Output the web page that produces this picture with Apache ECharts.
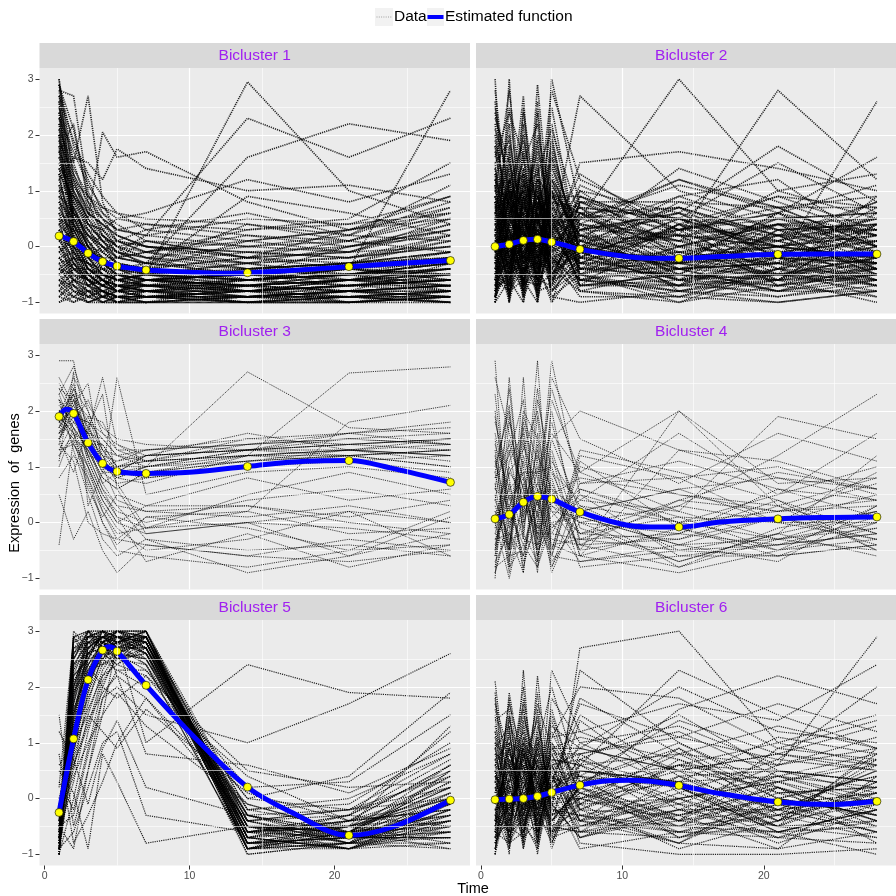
<!DOCTYPE html>
<html>
<head>
<meta charset="utf-8">
<script src="https://cdn.jsdelivr.net/npm/echarts@6/dist/echarts.min.js"></script>
<style>
html, body { margin: 0; padding: 0; background: #fff; }
#chart { width: 896px; height: 896px; }
</style>
</head>
<body>
<div id="chart"></div>
<script>
// sampling times of every gene profile
const times = [1, 2, 3, 4, 5, 7, 14, 21, 28]

// gene profiles (values at each time)
const genes1 = [
  [3.0, 1.2, 0.4, 0.1, -0.2, -0.3, -0.5, -0.4, -0.3],
  [2.8, 2.7, 1.0, 0.3, 0.0, -0.2, -0.6, -0.5, -0.2],
  [2.5, 1.5, 2.7, 0.8, 0.2, 0.0, -0.3, -0.2, 0.1],
  [2.2, 1.0, 0.5, 2.05, 1.6, 1.7, 0.8, 0.3, 0.5],
  [1.8, 0.6, 0.2, -0.1, -0.3, -0.5, -0.7, -0.6, -0.5],
  [1.5, 0.8, 0.0, -0.4, -0.5, -0.6, -0.8, -0.7, -0.8],
  [1.2, 1.6, 1.5, 1.2, 1.75, 1.4, 1.0, 1.1, 0.8],
  [1.0, 0.2, -0.3, -0.6, -0.7, -0.8, -0.9, -0.9, -1.0],
  [0.8, 0.4, 0.1, -0.2, -0.4, -0.5, 2.95, 1.0, 0.4],
  [0.6, 0.0, -0.5, -0.7, -0.8, -0.9, -1.0, -0.8, -0.9],
  [0.5, 0.3, -0.2, -0.5, -0.6, -0.7, -0.6, -0.4, 2.8],
  [0.3, -0.1, -0.4, -0.6, -0.7, -0.7, -0.8, -0.7, -0.6],
  [0.2, 0.5, 0.3, 0.0, -0.1, 0.2, 0.5, 0.4, 0.6],
  [0.0, -0.3, -0.6, -0.8, -0.8, -0.9, -0.9, -0.8, -0.8],
  [-0.2, -0.4, -0.7, -0.8, -0.9, -0.9, -1.0, -1.0, -0.9],
  [-0.4, -0.5, -0.6, -0.7, -0.7, -0.8, -0.8, -0.7, -0.7],
  [-0.6, -0.7, -0.8, -0.9, -0.9, -1.0, -0.9, -0.9, -0.8],
  [-0.8, -0.9, -1.0, -0.9, -1.0, -1.0, -1.0, -0.9, -1.0],
  [-1.0, -0.8, -0.9, -1.0, -0.9, -0.9, -0.8, -1.0, -0.9],
  [2.0, 0.9, 0.6, 0.4, 0.1, -0.1, 0.3, 0.5, 1.5],
  [1.4, 1.1, 0.7, 0.5, 0.3, 0.2, 2.3, 1.6, 2.3],
  [0.9, 0.7, 0.2, 0.0, -0.2, -0.3, 1.6, 2.2, 1.9],
  [-0.5, -0.2, -0.3, -0.5, -0.6, -0.6, -0.4, -0.3, -0.2],
  [-0.3, -0.6, -0.7, -0.6, -0.8, -0.7, -0.6, -0.5, -0.4],
  [-0.7, -0.5, -0.6, -0.7, -0.6, -0.8, -0.7, -0.6, -0.5],
  [-0.9, -1.0, -0.8, -0.8, -0.9, -0.9, -0.9, -0.8, -0.7],
  [0.1, -0.2, -0.5, -0.4, -0.5, -0.6, -0.7, -0.5, -0.3],
  [2.6, 0.3, -0.1, -0.3, -0.5, -0.6, -0.7, -0.6, -0.6],
  [1.7, 2.2, 0.8, 0.2, -0.1, -0.3, -0.5, -0.5, -0.4],
  [0.4, 0.1, 0.0, 0.2, 0.0, -0.2, 0.0, 0.2, 1.1],
  [-0.1, -0.4, -0.6, -0.7, -0.5, -0.4, -0.5, 0.0, 0.3],
  [1.1, 0.4, -0.1, -0.4, -0.3, -0.5, -0.6, -0.5, -0.7],
  [-0.6, -0.8, -0.9, -1.0, -1.0, -0.9, -0.8, -0.7, -0.6],
  [2.9, 1.8, 1.2, 0.6, 0.4, 0.1, -0.2, -0.1, 0.0],
  [-0.8, -0.6, -0.7, -0.9, -0.8, -0.7, -0.9, -0.8, -0.9],
  [0.7, 0.2, -0.4, -0.6, -0.7, -0.8, -0.7, -0.6, -0.5],
  [-0.4, -0.7, -0.9, -0.8, -0.9, -1.0, -1.0, -0.9, -1.0],
  [1.3, 0.9, 0.4, 0.3, 0.0, -0.4, 0.9, 0.6, 0.2],
  [-0.2, -0.1, -0.4, -0.5, -0.5, -0.5, -0.3, -0.6, -0.4],
  [0.0, -0.5, -0.8, -0.9, -1.0, -0.8, -0.9, -1.0, -0.8],
  [3.0, 0.5, 0.0, -0.3, -0.5, -0.6, -0.8, -0.7, -0.6],
  [2.7, 1.3, 0.6, 0.2, -0.1, -0.2, -0.4, -0.3, 0.2],
  [2.4, 0.8, 0.3, 0.0, -0.3, -0.4, -0.6, -0.5, -0.3],
  [2.1, 1.4, 0.9, 0.6, 0.3, 0.4, 0.2, 0.1, 0.7],
  [1.9, 0.4, -0.2, -0.5, -0.6, -0.7, -0.9, -0.8, -0.7],
  [1.6, 1.0, 0.5, 0.1, -0.2, -0.1, -0.3, 0.0, 0.4],
  [1.3, 0.1, -0.4, -0.6, -0.8, -0.8, -1.0, -0.9, -0.9],
  [0.9, 0.6, 0.4, 0.3, 0.5, 0.6, 1.2, 0.8, 1.3],
  [0.6, -0.2, -0.5, -0.7, -0.9, -1.0, -0.9, -1.0, -1.0],
  [0.4, 0.7, 0.1, -0.3, -0.2, 0.1, -0.2, 0.3, 0.9],
  [0.2, -0.4, -0.6, -0.8, -0.7, -0.9, -0.7, -0.8, -0.7],
  [-0.1, 0.2, -0.1, -0.3, -0.4, -0.3, 0.4, 0.1, -0.1],
  [-0.3, -0.8, -1.0, -0.9, -0.8, -0.6, -0.5, -0.7, -0.5],
  [-0.5, -0.3, -0.5, -0.6, -0.8, -0.9, -0.8, -0.6, -0.2],
  [-0.7, -0.9, -0.7, -0.5, -0.6, -0.5, -0.6, -0.4, -0.6],
  [-0.9, -0.7, -1.0, -1.0, -0.9, -0.8, -1.0, -0.9, -0.8],
  [2.3, 1.7, 1.1, 0.7, 0.6, 0.3, 0.1, 0.3, 0.6],
  [1.7, 0.5, 0.0, -0.2, -0.4, -0.4, -0.2, -0.4, -0.1],
  [1.0, 1.2, 0.6, 0.4, 0.2, 0.0, -0.1, -0.2, 0.0],
  [0.5, -0.6, -0.8, -1.0, -1.0, -0.9, -0.9, -0.8, -0.9],
  [0.1, 0.0, -0.2, 0.0, -0.3, -0.4, 0.1, -0.1, 0.5],
  [-0.2, -0.6, -0.8, -0.7, -0.6, -0.7, -0.4, -0.5, -0.8],
  [-0.6, -0.4, -0.4, -0.6, -0.4, -0.6, -0.7, -0.8, -0.3],
  [-0.8, -1.0, -0.9, -0.7, -0.8, -0.8, -0.6, -0.5, -0.4],
  [2.9, 2.1, 0.9, 0.5, 0.1, -0.1, -0.4, -0.3, -0.1],
  [2.0, 0.2, -0.3, -0.5, -0.7, -0.7, -0.6, -0.4, -0.5],
  [1.4, 0.6, 0.2, -0.1, 0.1, 0.3, 0.6, 0.2, 0.8],
  [0.8, 0.0, -0.3, -0.4, -0.6, -0.5, -0.8, -0.6, -0.6],
  [-0.4, -0.2, -0.6, -0.8, -1.0, -1.0, -0.7, -1.0, -0.9],
  [0.3, -0.3, -0.7, -0.9, -0.7, -0.6, -0.5, -0.3, 0.1],
  [2.8, 0.9, 0.3, -0.1, -0.3, -0.4, -0.5, -0.6, -0.4],
  [2.5, 1.1, 0.6, 0.4, 0.2, 0.0, -0.2, -0.1, 0.3],
  [2.2, 0.3, -0.2, -0.4, -0.6, -0.7, -0.8, -0.7, -0.6],
  [1.9, 1.3, 0.8, 0.5, 0.3, 0.2, 0.0, 0.1, 0.5],
  [1.6, 0.7, 0.1, -0.2, -0.4, -0.5, -0.6, -0.4, -0.2],
  [1.3, 0.0, -0.5, -0.7, -0.8, -0.9, -0.9, -0.8, -0.8],
  [1.0, 0.9, 0.5, 0.2, 0.0, -0.1, 0.1, 0.3, 0.7],
  [0.7, 0.1, -0.2, -0.3, -0.5, -0.6, -0.5, -0.6, -0.4],
  [0.4, -0.3, -0.6, -0.9, -0.9, -0.8, -0.9, -0.9, -1.0],
  [0.1, 0.3, 0.2, 0.1, -0.1, -0.2, -0.3, -0.2, 0.0],
  [-0.2, -0.5, -0.7, -0.6, -0.7, -0.8, -0.6, -0.7, -0.6],
  [-0.5, -0.8, -0.8, -1.0, -0.9, -0.9, -1.0, -1.0, -0.9],
  [-0.8, -0.4, -0.5, -0.4, -0.6, -0.5, -0.4, -0.3, -0.1],
  [-1.0, -0.9, -0.8, -0.8, -0.7, -0.7, -0.8, -0.9, -0.8],
  [2.9, 1.5, 0.7, 0.3, 0.1, 0.0, -0.1, 0.0, 0.2],
  [2.6, 0.6, 0.0, -0.3, -0.5, -0.6, -0.7, -0.8, -0.7],
  [2.3, 1.0, 0.4, 0.1, -0.1, -0.3, -0.4, -0.3, -0.2],
  [2.0, 0.1, -0.4, -0.6, -0.7, -0.8, -0.8, -0.9, -0.8],
  [1.7, 1.2, 0.9, 0.7, 0.5, 0.4, 0.3, 0.4, 0.9],
  [1.4, 0.5, 0.0, -0.3, -0.4, -0.6, -0.7, -0.5, -0.5],
  [1.1, -0.1, -0.6, -0.8, -0.9, -1.0, -0.9, -0.9, -0.9],
  [0.8, 0.5, 0.2, 0.0, -0.2, -0.3, -0.1, -0.2, 0.2],
  [0.5, 0.0, -0.4, -0.5, -0.6, -0.5, -0.6, -0.7, -0.5],
  [0.2, -0.7, -0.9, -0.9, -1.0, -0.9, -0.8, -0.8, -0.7],
  [-0.1, 0.1, -0.1, -0.2, -0.2, -0.1, 0.2, 0.0, 0.3],
  [-0.4, -0.6, -0.5, -0.7, -0.5, -0.7, -0.7, -0.6, -0.7],
  [-0.7, -0.3, -0.6, -0.6, -0.8, -0.6, -0.5, -0.4, -0.5],
  [-0.9, -0.6, -0.9, -0.8, -1.0, -1.0, -0.9, -0.7, -0.6],
  [2.7, 1.9, 1.3, 0.9, 0.6, 0.5, 0.4, 0.2, 0.1],
  [2.4, 0.4, -0.1, -0.2, -0.4, -0.5, -0.3, -0.5, -0.3],
  [2.1, 0.6, 0.3, 0.2, 0.0, 0.1, 0.0, -0.1, 0.4],
  [1.8, -0.1, -0.5, -0.7, -0.8, -0.7, -0.7, -0.6, -0.7],
  [1.5, 0.8, 0.4, 0.1, 0.1, 0.0, -0.2, -0.3, -0.1],
  [1.2, 0.3, -0.2, -0.5, -0.6, -0.6, -0.5, -0.4, -0.6],
  [0.9, -0.2, -0.7, -0.8, -0.9, -0.9, -1.0, -1.0, -0.9],
  [0.6, 0.4, 0.0, -0.1, -0.3, -0.4, -0.2, 0.1, 0.6],
  [0.3, -0.1, -0.3, -0.6, -0.5, -0.7, -0.8, -0.6, -0.8],
  [0.0, -0.4, -0.6, -0.5, -0.7, -0.6, -0.6, -0.5, -0.3],
  [-0.3, -0.2, -0.3, -0.4, -0.4, -0.4, -0.5, -0.4, -0.2],
  [-0.6, -0.9, -1.0, -0.9, -0.8, -0.8, -0.7, -0.8, -1.0]
]

const genes2 = [
  [3.0, -1.0, 2.5, 0.5, 1.0, 0.2, -0.3, 0.0, -0.2],
  [-1.0, 3.0, -0.8, 2.6, -0.5, 0.0, 0.3, 0.2, 0.1],
  [2.0, 0.5, 2.7, -1.0, 3.0, 0.7, -0.2, -0.5, -0.3],
  [0.5, 2.2, -0.5, 2.9, 0.2, 2.7, 1.0, 0.5, 0.6],
  [1.5, -0.5, 1.8, 0.0, 2.5, -0.2, -0.6, -0.4, -0.5],
  [-0.5, 1.5, 0.0, 1.6, -1.0, 0.5, 3.0, 1.0, 0.5],
  [0.0, -1.0, 1.2, -0.8, 1.5, -0.5, -0.8, -0.9, -0.7],
  [2.5, 1.0, -1.0, 0.8, -0.3, 0.3, 0.2, 2.8, 1.2],
  [-0.8, 0.0, -0.6, -1.0, 0.4, -0.8, -1.0, -0.7, -0.9],
  [1.0, 2.8, 0.5, -0.2, 1.2, 0.0, -0.4, -0.3, 2.6],
  [-1.0, -0.6, -1.0, 0.2, -0.8, -0.4, -0.5, -0.6, -0.6],
  [0.3, 0.8, 1.5, 2.2, 0.0, 1.5, 1.7, 1.4, 1.0],
  [1.8, -0.2, 0.3, -0.6, 2.0, -0.6, -0.7, -0.8, -0.8],
  [-0.3, 1.2, -0.4, 1.0, -0.6, 0.8, 0.5, 0.0, 0.2],
  [0.8, -0.8, 2.2, -0.3, 1.8, -0.1, -0.2, 0.4, 0.0],
  [-0.6, 0.3, -0.2, 0.5, -0.2, -0.9, -0.9, -1.0, -0.8],
  [2.2, 0.0, 0.8, 1.2, -0.7, 0.4, 1.2, 0.6, 1.6],
  [-0.9, -0.4, 0.6, -0.5, 0.8, -0.3, -0.3, -0.2, -0.4],
  [0.2, 1.8, -0.9, 0.3, -0.4, 0.1, 0.6, 1.8, 0.8],
  [1.2, 0.4, 0.1, 1.8, 0.6, -0.7, -0.6, -0.5, -0.2],
  [-0.2, -0.9, 1.0, -0.7, 0.0, 0.6, -0.1, -0.3, -0.1],
  [0.6, 1.0, -0.3, 0.0, 1.0, -0.2, 0.8, 0.3, 0.4],
  [-0.7, -0.2, -0.7, -0.4, -0.9, -1.0, -0.8, -0.6, -1.0],
  [2.8, 0.6, 1.0, 0.6, 2.8, 1.2, 0.4, 0.9, 0.3],
  [-0.4, 0.9, -0.1, -0.9, 0.3, -0.6, -0.4, -0.8, -0.5],
  [0.4, -0.3, 0.4, 0.8, -0.1, 0.2, 0.1, -0.1, -0.3],
  [-1.0, 0.2, -0.5, 0.1, -0.5, -0.5, -1.0, -0.4, -0.7],
  [1.6, 2.4, 1.6, -0.1, 0.9, 0.9, 0.0, -0.2, 0.7],
  [-0.5, -0.7, 0.2, -0.6, -0.3, 0.0, -0.6, -0.9, -0.6],
  [0.9, 0.1, -0.8, 1.4, -0.6, -0.4, 0.4, 0.1, -0.4],
  [0.0, 0.6, 0.7, -0.2, 0.5, -0.7, -0.7, -0.5, 0.9],
  [-0.8, -0.5, -0.3, -0.8, -0.7, -0.1, 0.2, -0.7, -0.2],
  [1.4, -0.1, 1.3, 0.4, 1.4, 0.3, -0.5, 0.2, -0.5],
  [-0.3, -0.8, -0.6, 0.6, -0.4, -0.8, -0.9, -0.4, -0.9],
  [0.7, 1.4, 0.0, -0.5, 0.1, 0.1, 1.4, 0.8, 0.2],
  [-0.6, 0.0, -0.9, -0.3, -1.0, -0.3, -0.2, 0.0, -0.3],
  [0.1, -0.6, 0.9, -1.0, 0.7, 0.4, -0.8, -1.0, -0.8],
  [2.4, 0.9, 0.4, 1.1, 0.2, 0.0, 0.9, 1.2, 0.0],
  [-0.1, -0.3, -0.2, 0.3, -0.2, -0.6, -0.3, -0.6, -0.1],
  [-0.9, 0.4, -0.4, -0.6, 0.4, -0.2, -0.6, -0.2, -0.6],
  [2.6, -0.4, 1.4, -0.2, 1.6, 0.1, -0.4, -0.3, -0.4],
  [-0.2, 2.5, 0.3, 1.9, 0.2, 1.3, 0.2, 0.4, 0.3],
  [1.3, 0.2, 2.4, 0.4, 2.2, -0.2, 0.5, -0.1, 0.1],
  [0.4, 1.6, -0.2, 2.4, -0.1, 0.6, -0.3, 0.6, -0.2],
  [1.9, 0.7, 0.5, -0.4, 1.3, 0.0, 0.7, 0.2, 0.5],
  [-0.6, 1.1, 1.9, 0.7, 0.6, -0.4, -0.1, -0.5, -0.4],
  [0.9, -0.5, 0.1, 1.5, -0.3, 0.9, 0.3, 0.9, 0.7],
  [-0.3, 0.5, 1.3, -0.6, 1.1, 0.2, -0.6, -0.3, -0.7],
  [2.1, 1.3, -0.3, 0.9, 0.5, -0.5, 0.0, -0.6, 0.4],
  [0.2, -0.7, 0.8, 0.2, -0.5, 0.3, 0.9, 0.3, -0.1],
  [-0.9, 0.8, -0.5, 1.2, 0.9, 0.6, -0.4, 0.1, 0.8],
  [1.1, 0.0, 1.7, -0.5, 1.7, -0.1, 0.3, 0.5, 0.2],
  [0.6, 2.0, 0.2, 0.0, -0.4, 1.0, 0.6, -0.2, -0.3],
  [-0.4, -0.3, 0.9, 0.9, 0.3, -0.6, -0.8, -0.4, 0.0],
  [1.7, 0.3, -0.7, 0.5, 1.0, 0.4, 0.1, 1.0, 1.3],
  [0.0, 1.2, 0.6, -0.7, 0.0, -0.3, 0.4, -0.7, -0.5],
  [-0.7, -0.1, -0.1, 0.6, -0.6, 0.1, -0.2, 0.0, 0.2],
  [1.0, 0.9, 1.1, 1.3, 2.1, 0.5, 1.1, 0.7, 0.9],
  [0.3, -0.4, -0.4, -0.3, 0.6, -0.7, -0.5, -0.8, -0.6],
  [2.3, 1.5, 0.7, 1.7, 0.4, 0.8, 0.2, 0.0, -0.2],
  [-0.5, 0.4, 1.6, 0.0, -0.2, 0.0, 0.0, 0.4, 0.5],
  [0.8, -0.2, -0.6, 0.7, 1.6, -0.4, -0.7, -0.2, -0.3],
  [1.5, 1.9, 0.3, -0.3, 0.8, 0.7, 0.5, 1.5, 0.6],
  [-0.1, 0.7, 2.0, 0.4, -0.8, -0.2, -0.3, -0.5, -0.8],
  [0.5, -0.9, 0.5, 2.0, 0.9, 0.2, 0.7, 0.2, 0.3],
  [-0.8, 1.7, -0.2, -0.2, 0.2, -0.5, -0.9, -0.6, -0.4],
  [1.2, 0.1, 1.1, 0.9, -0.1, 1.1, 0.3, 0.6, 1.1],
  [0.1, 1.3, -0.7, 0.4, 1.2, -0.1, -0.2, -0.1, -0.5],
  [-0.2, -0.5, 0.3, -0.9, 0.5, 0.5, 1.2, 0.7, 0.0],
  [1.8, 0.6, 1.4, 0.2, 1.9, -0.3, -0.4, -0.3, 0.4],
  [1.1, -0.6, 0.9, -0.4, 0.7, 0.0, -0.3, -0.1, 0.1],
  [-0.7, 0.9, -0.3, 1.1, -0.5, 0.4, 0.2, 0.0, -0.2],
  [0.4, -0.2, 1.2, 0.1, 1.0, -0.4, -0.5, -0.6, -0.5],
  [-0.1, 1.1, 0.2, -0.6, 0.3, 0.7, 0.5, 0.3, 0.4],
  [0.9, 0.3, -0.6, 0.8, -0.8, -0.2, -0.1, 0.2, -0.1],
  [-0.9, -0.2, 0.5, 0.5, 1.1, 0.1, -0.4, -0.5, -0.6],
  [0.2, 0.7, -0.8, -0.1, 0.0, -0.6, 0.0, 0.5, 0.6],
  [1.3, -0.9, 0.3, 1.0, -0.6, 0.6, 0.7, 0.1, -0.3],
  [-0.4, 0.4, 1.0, -0.9, 0.6, -0.1, -0.6, -0.7, -0.4],
  [0.6, -0.5, -0.1, 0.3, -0.2, 0.9, 0.3, 0.6, 0.2],
  [-0.6, 1.0, 0.7, 0.6, -0.9, -0.5, -0.2, -0.3, 0.0],
  [0.0, -0.8, -0.4, -0.5, 0.9, 0.3, 0.6, -0.2, -0.7],
  [1.0, 0.1, 0.6, 1.2, 0.2, -0.3, -0.7, 0.3, 0.3],
  [-0.8, 0.6, -0.2, -0.3, -0.4, 0.5, 0.1, -0.4, -0.1],
  [0.5, -0.1, 0.4, 0.2, 0.5, -0.7, 0.4, 0.0, 0.5],
  [-0.3, 1.2, -0.9, 0.7, 0.1, 0.2, -0.5, 0.4, -0.4],
  [0.7, -0.4, 1.1, -0.7, -0.5, 0.0, 0.2, -0.6, 0.1],
  [-1.0, 0.5, 0.0, 0.9, 0.4, -0.4, -0.3, 0.2, -0.5],
  [0.3, -0.7, 0.8, -0.2, -0.7, 0.8, 0.8, 0.7, 0.7],
  [1.2, 0.8, -0.5, 0.4, 0.8, -0.6, -0.8, -0.5, -0.2],
  [-0.5, -0.3, 0.3, -0.8, 1.2, 0.4, 0.0, 0.1, 0.4],
  [0.1, 0.2, -0.7, 1.3, -0.3, -0.2, 0.5, -0.3, -0.6],
  [0.8, -1.0, 0.1, 0.0, 0.3, 1.0, -0.2, 0.5, 0.0],
  [-0.2, 0.9, 1.3, -0.4, -0.1, -0.8, -0.4, -0.8, -0.3],
  [0.6, 0.0, -0.2, 0.6, -0.8, 0.3, 0.6, 0.2, 0.8],
  [-0.7, -0.6, 0.5, -0.1, 0.6, -0.1, -0.7, -0.1, -0.2],
  [1.4, 0.5, 0.0, 0.9, 0.0, 0.6, 0.1, 0.4, 0.2],
  [-0.4, 0.3, -0.6, -0.7, 0.9, -0.3, 0.3, -0.5, -0.7],
  [0.2, -0.5, 0.9, 0.5, -0.4, 0.2, -0.1, 0.0, 0.3],
  [-0.9, 1.0, 0.2, 0.1, 0.2, 0.7, -0.6, 0.3, -0.4],
  [0.9, -0.2, -0.4, -0.3, 1.0, -0.5, 0.4, -0.4, 0.6],
  [0.0, 0.6, 1.0, 1.0, -0.6, 0.0, -0.3, 0.6, -0.1],
  [-0.6, -0.8, -0.1, -0.5, 0.4, 0.5, 0.7, -0.2, 0.1],
  [0.4, 0.4, 0.6, 0.3, -0.2, -0.7, -0.5, -0.7, -0.5],
  [1.1, -0.3, -0.8, 0.8, 0.5, 0.1, 0.2, 0.1, 0.5],
  [-0.2, 0.1, 0.4, -0.6, -0.7, 0.8, 0.0, 0.4, -0.3],
  [0.7, 0.8, -0.3, 0.2, 0.7, -0.4, -0.4, -0.2, 0.2],
  [-0.8, -0.4, 0.7, 0.4, 0.1, 0.3, 0.5, 0.0, -0.6],
  [0.3, 1.1, 0.1, -0.2, -0.5, -0.1, -0.7, -0.6, 0.4],
  [-0.5, 0.0, -0.5, 0.7, 0.8, 0.6, 0.3, 0.7, 0.0]
]

const genes3 = [
  [2.9, 2.9, 1.5, 1.2, 0.9, 0.9, 1.1, 1.3, 1.2],
  [2.3, 2.8, 2.0, 1.3, 1.0, 1.0, 1.3, 1.4, 1.5],
  [2.0, 2.3, 1.8, 1.5, 1.2, 1.1, 1.2, 1.2, 1.3],
  [1.8, 2.1, 1.6, 1.0, 1.1, 1.3, 1.4, 1.5, 1.6],
  [1.9, 1.6, 1.4, 0.9, 0.9, 1.2, 1.3, 1.3, 1.4],
  [1.6, 2.0, 1.2, 1.1, 0.8, 1.0, 1.2, 1.3, 1.1],
  [2.1, 1.8, 2.2, 1.6, 1.3, 1.1, 1.5, 1.6, 1.7],
  [1.5, 1.9, 1.6, 2.6, 1.4, 1.2, 1.3, 1.4, 1.3],
  [1.7, 2.2, 1.9, 1.2, 0.7, 0.8, 1.0, 1.2, 1.0],
  [1.2, 1.5, 1.3, 0.8, 0.6, 0.9, 1.1, 1.2, 1.3],
  [2.5, 2.0, 1.5, 1.4, 1.0, 1.1, 1.2, 1.1, 1.2],
  [1.4, 2.4, 1.7, 1.3, 1.2, 1.3, 1.4, 1.5, 1.4],
  [2.2, 1.9, 1.8, 1.0, 0.8, 1.0, 2.7, 1.7, 1.6],
  [1.9, 2.6, 2.1, 1.7, 1.5, 1.4, 1.3, 1.6, 1.8],
  [1.0, 1.7, 1.3, 0.7, 0.9, 1.2, 1.6, 1.3, 1.5],
  [1.8, 2.0, 1.1, 0.5, 0.2, 0.0, 0.4, 0.6, 0.3],
  [2.0, 1.7, 1.0, 0.4, 0.0, -0.2, 0.0, -0.1, -0.3],
  [1.6, 1.8, 1.4, 0.7, 0.3, -0.3, -0.5, -0.4, -0.6],
  [1.3, 1.4, 0.9, 0.3, -0.1, -0.5, -0.3, 0.2, 0.0],
  [2.4, 1.9, 1.2, 0.6, 0.1, -0.7, -0.2, -0.8, -0.4],
  [0.8, 1.2, 0.8, 0.0, -0.4, 0.1, -0.1, -0.5, 0.2],
  [1.9, 1.6, 1.0, 0.2, -0.2, -0.1, 0.5, 0.9, 0.5],
  [1.7, 2.1, 2.5, 1.0, 0.4, 0.2, 0.3, 0.0, -0.2],
  [0.5, -0.3, 0.2, -0.5, -0.9, -0.4, -0.6, -0.3, -0.5],
  [-0.4, 1.5, 0.6, 0.1, 0.5, 0.3, 0.8, 0.4, 0.6],
  [1.5, 0.9, 1.7, 2.3, 0.6, -0.2, 0.0, -0.6, 0.1],
  [2.2, 1.3, 0.5, -0.3, -0.6, -0.3, -0.9, -0.6, -0.2],
  [1.1, 2.7, 0.3, 0.9, 2.6, 0.5, 0.9, 1.0, 0.8],
  [1.4, 1.1, 0.0, -0.2, -0.3, 0.1, 0.2, 1.8, 2.1],
  [1.6, 2.3, 1.5, 1.1, 0.8, 0.7, 1.2, 2.68, 2.79],
  [2.0, 1.9, 1.6, 1.2, 1.1, 1.2, 1.3, 1.4, 1.5],
  [1.7, 2.5, 1.4, 1.4, 1.0, 1.1, 1.2, 1.3, 1.2],
  [2.6, 2.1, 1.7, 1.1, 0.9, 1.0, 1.1, 1.2, 1.3],
  [1.8, 1.5, 1.9, 1.8, 1.3, 1.3, 1.5, 1.4, 1.5],
  [1.5, 2.2, 1.5, 1.0, 1.0, 1.2, 1.3, 1.5, 1.4],
  [2.2, 1.7, 1.3, 0.8, 0.6, 0.9, 1.2, 1.3, 1.2],
  [1.3, 1.8, 1.6, 1.5, 1.2, 1.0, 1.3, 1.2, 1.0],
  [1.9, 2.3, 1.2, 0.6, 0.3, 0.2, 0.1, 0.3, 0.0],
  [2.3, 1.6, 0.8, 0.2, -0.3, -0.4, -0.6, -0.7, -0.5],
  [1.5, 2.0, 1.1, 0.5, 0.1, -0.1, 0.2, -0.2, -0.1],
  [1.2, 1.6, 0.7, 0.0, -0.5, -0.6, -0.8, -0.5, -0.4],
  [2.0, 1.4, 1.0, 0.4, 0.0, 0.3, 0.3, 0.1, 0.4],
  [1.8, 2.4, 2.0, 1.3, 0.9, 0.8, 1.0, 1.1, 0.9],
  [1.6, 1.9, 1.8, 1.6, 1.4, 1.1, 1.4, 1.6, 1.4],
  [2.4, 2.2, 1.4, 0.9, 0.7, -0.1, 0.0, 0.2, -0.6]
]

const genes4 = [
  [2.9, -0.5, 1.2, 0.3, 2.9, 0.5, 0.0, -0.3, 0.2],
  [-1.0, 2.6, 0.0, 2.9, -0.6, 1.0, 0.5, 0.2, 0.4],
  [0.5, -0.8, 2.6, -0.7, 1.5, 2.0, 1.3, 0.8, 0.6],
  [1.8, 0.8, -0.9, 1.6, 0.2, -0.4, -0.8, -0.3, 0.0],
  [-0.6, 1.5, 0.6, -0.9, 2.2, 0.9, 2.0, 0.3, -0.2],
  [0.2, -0.2, 1.8, 0.8, -0.4, -0.3, -0.5, -0.6, -0.4],
  [1.0, 2.0, -0.3, 2.2, 0.9, 0.4, 0.2, 1.9, 1.5],
  [-0.3, 0.3, 0.9, -0.2, 1.2, -0.6, -0.9, -0.5, -0.3],
  [2.3, 0.0, 0.4, 1.0, -0.8, 0.2, 0.6, 0.0, 0.9],
  [-0.8, -0.6, -0.5, 0.5, 0.6, -0.5, -0.2, 0.4, -0.5],
  [0.8, 1.2, 2.2, -0.4, 0.0, 0.1, -0.4, -0.7, 0.3],
  [0.0, -1.0, 0.2, 1.3, -0.2, 0.7, 1.1, 0.6, 0.1],
  [1.4, 0.6, -0.7, 0.0, 1.8, -0.1, -0.7, -0.2, -0.6],
  [-0.5, 1.8, 1.0, -0.6, 0.4, 0.0, 0.3, 1.2, 2.3],
  [0.4, -0.3, -0.2, 1.9, -0.5, 1.2, 0.8, 1.0, 0.5],
  [-0.2, 0.9, 0.5, -0.3, 0.8, -0.8, -0.6, -0.4, -0.2],
  [1.2, -0.7, 1.4, 0.6, -0.9, 0.3, 0.0, 0.2, 0.7],
  [-0.9, 0.2, -0.4, -0.8, 0.3, -0.2, -0.3, 0.1, -0.4],
  [0.6, 2.4, 0.1, 0.9, 1.0, -0.6, -0.1, -0.6, 0.0],
  [2.0, -0.1, 0.7, -0.5, -0.1, 0.4, 1.6, 0.5, 1.0],
  [-0.4, 0.5, -0.8, 0.2, 1.5, 0.2, -0.8, -0.1, 0.2],
  [0.9, -0.5, 1.9, 1.1, -0.3, -0.4, 0.4, 0.9, 0.6],
  [0.1, 1.0, 0.3, -0.1, 0.1, 0.6, 0.1, -0.5, -0.1],
  [-0.7, -0.2, -0.6, 0.4, -0.6, -0.7, -0.5, -0.2, 1.2],
  [1.6, 0.4, 0.8, -0.6, 0.5, 0.8, 0.5, 0.3, -0.5],
  [-0.1, 1.3, -0.1, 1.4, -0.7, 0.0, -0.2, 0.6, 0.4],
  [0.3, -0.4, 1.1, 0.1, 2.6, 1.5, 0.7, 1.6, 1.1],
  [-0.6, 0.7, -0.3, -0.4, 0.7, -0.5, 2.0, 0.7, 0.8],
  [1.1, 0.1, 0.0, 0.7, 0.2, 0.1, -0.4, -0.3, -0.1],
  [0.7, -0.9, 0.5, -0.2, -0.2, -0.3, 0.3, 0.0, -0.3],
  [1.5, -0.6, 0.3, 2.4, 0.4, -0.2, 0.1, 0.0, 0.5],
  [-0.8, 1.1, 1.6, -0.5, 1.1, 0.3, -0.5, -0.4, 0.1],
  [0.6, 0.3, -0.6, 0.6, -0.5, 1.3, 0.9, 0.4, -0.2],
  [2.6, 1.6, 0.8, -0.1, 2.0, -0.4, -0.3, 0.3, 0.8],
  [-0.2, -0.4, 2.0, 1.5, -0.1, 0.5, -0.6, -0.6, -0.4],
  [0.9, 2.1, -0.2, -0.7, 0.9, -0.2, 0.4, 0.2, 0.3],
  [0.0, 0.6, 0.9, 0.9, 1.6, 0.9, 0.2, -0.3, -0.5],
  [1.3, -0.8, -0.4, 0.4, -0.4, -0.6, 1.3, 1.1, 0.6],
  [-0.5, 0.9, 1.3, 2.0, 0.3, 0.0, -0.7, -0.2, 0.2],
  [0.4, 1.9, 0.2, 0.2, -0.8, 0.6, 0.0, 0.5, 1.6],
  [1.9, 0.2, 1.5, -0.3, 1.3, -0.3, -0.2, -0.4, -0.2],
  [-0.3, -0.2, -0.9, 1.2, 0.6, 0.2, 0.6, 0.8, 0.4],
  [0.8, 1.4, 0.6, -0.8, 0.0, -0.7, -0.4, 0.1, -0.3],
  [-0.9, 0.0, 0.4, 0.7, 2.4, 0.7, 0.8, 0.0, 0.0],
  [0.2, -0.5, 1.7, 0.0, -0.6, 1.1, -0.1, -0.5, 0.3]
]

const genes5 = [
  [-1.0, 2.9, 3.0, 2.9, 2.8, 3.0, -0.9, -0.8, -0.6],
  [-0.8, 2.5, 2.9, 3.0, 3.0, 2.9, -0.7, -0.9, -0.3],
  [-0.6, 2.0, 2.8, 2.8, 2.9, 2.8, -0.5, -0.6, 0.2],
  [-0.9, 1.5, 2.6, 2.9, 2.7, 2.7, -0.8, -0.5, -0.8],
  [-0.4, 1.2, 2.4, 2.7, 2.9, 2.6, -0.3, -0.7, 0.5],
  [-1.0, 3.0, 2.7, 2.6, 2.8, 2.9, -1.0, -0.8, -0.9],
  [-0.7, 1.8, 3.0, 3.0, 2.6, 2.5, -0.6, -0.4, -0.2],
  [-0.5, 0.8, 2.2, 2.5, 2.8, 3.0, -0.2, 0.0, 0.8],
  [-0.2, 0.5, 1.9, 2.8, 3.0, 2.7, -0.4, -0.3, 1.2],
  [-0.9, 2.2, 2.5, 2.4, 2.5, 2.4, -0.9, -0.6, -0.4],
  [0.0, 1.0, 2.0, 2.6, 2.4, 2.2, 0.0, -0.2, 0.4],
  [-0.8, 2.7, 2.9, 2.7, 2.9, 2.8, -0.6, -0.9, -0.5],
  [-0.6, 0.3, 1.5, 2.3, 2.7, 2.9, -0.7, -0.5, 0.0],
  [0.3, -0.2, 0.9, 2.0, 2.6, 2.3, 0.2, 0.3, 1.5],
  [-0.3, 1.4, 2.7, 2.9, 2.2, 1.8, -0.1, -0.6, -0.1],
  [-1.0, 0.0, 1.2, 2.1, 2.5, 2.6, -0.8, -0.7, -0.7],
  [1.5, -0.5, 0.5, 1.8, 2.0, 1.5, 1.0, 1.7, 2.6],
  [-0.7, 1.6, 2.3, 2.8, 2.6, 2.9, -0.5, -0.8, 0.1],
  [-0.4, 2.4, 2.8, 2.5, 2.3, 2.0, 0.4, -0.4, 0.6],
  [1.2, 0.7, -0.1, 0.9, 1.4, 0.2, -0.3, -0.2, 0.0],
  [-0.9, -0.6, 0.2, 1.0, 1.2, -0.3, -0.6, -0.5, -0.3],
  [-0.5, -0.9, 0.5, 1.5, 2.8, 1.0, 2.4, 1.9, 1.8],
  [0.5, 0.1, -0.9, 0.8, 0.3, -0.8, -0.5, -0.6, -0.4],
  [-0.2, 1.1, 1.8, 2.4, 2.9, 2.5, -0.2, -0.1, 1.0],
  [-0.8, 2.0, 2.6, 2.9, 2.7, 2.9, -0.9, -0.7, -0.6],
  [-0.6, 1.3, 2.1, 2.6, 3.0, 2.8, -0.4, -0.8, -0.2],
  [0.2, 2.9, 2.4, 2.0, 1.8, 2.2, 0.5, 0.2, 0.3],
  [-1.0, 0.9, 1.6, 2.2, 2.4, 2.7, -0.7, -0.3, 0.7],
  [-0.3, 0.4, 1.0, 1.5, 1.9, 1.3, -0.1, -0.6, -0.5],
  [-0.7, 2.6, 2.9, 2.8, 2.5, 2.9, -0.8, -0.9, -0.8],
  [0.8, -0.8, -0.3, 0.3, 1.0, 1.8, -0.4, -0.2, 0.2],
  [-0.9, 1.7, 2.7, 3.0, 2.9, 2.6, -0.6, -0.5, -0.1],
  [-0.5, 2.3, 3.0, 2.7, 2.5, 2.7, -0.3, -0.7, -0.7],
  [-0.1, 0.6, 1.4, 1.9, 2.2, 0.8, 0.6, 0.1, 0.9],
  [-0.8, 1.9, 2.5, 3.0, 2.8, 3.0, -0.9, -0.9, -0.4],
  [-0.9, 2.8, 2.9, 3.0, 3.0, 3.0, -0.8, -0.7, -0.5],
  [-0.7, 2.3, 2.7, 2.9, 2.8, 2.8, -0.9, -0.8, -0.3],
  [-1.0, 1.9, 2.8, 2.8, 2.9, 2.9, -0.7, -0.6, 0.3],
  [-0.6, 2.6, 3.0, 2.8, 2.7, 2.7, -0.5, -0.9, -0.6],
  [-0.8, 1.4, 2.5, 3.0, 2.9, 2.8, -0.6, -0.5, 0.0],
  [-0.5, 2.1, 2.6, 2.7, 3.0, 3.0, -0.4, -0.7, -0.4],
  [-0.9, 1.1, 2.2, 2.9, 2.8, 2.6, -0.8, -0.6, 0.4],
  [-0.3, 2.9, 3.0, 2.6, 2.6, 2.9, -0.7, -0.4, -0.2],
  [-0.7, 1.7, 2.9, 3.0, 2.7, 2.5, -0.5, -0.8, -0.7],
  [-1.0, 2.4, 2.6, 2.9, 3.0, 2.7, -0.9, -0.5, 0.1],
  [-0.4, 0.7, 1.7, 2.6, 2.8, 2.4, -0.3, -0.6, 0.6],
  [-0.6, 1.5, 2.4, 2.8, 2.9, 3.0, -0.6, -0.3, -0.5],
  [-0.8, 2.7, 2.8, 2.7, 2.8, 2.6, -1.0, -0.8, -0.2],
  [-0.2, 1.2, 2.0, 2.7, 2.6, 2.8, -0.4, -0.2, 0.8],
  [-0.9, 2.0, 2.9, 2.9, 2.9, 2.9, -0.7, -0.9, -0.1],
  [-0.5, 0.9, 1.9, 2.5, 2.7, 2.9, -0.2, -0.5, 1.3],
  [-0.7, 2.5, 3.0, 3.0, 2.8, 2.7, -0.5, -0.6, -0.9],
  [-0.3, 1.6, 2.3, 2.4, 2.6, 2.5, -0.6, -0.4, 0.2],
  [-1.0, 1.3, 2.7, 2.9, 3.0, 2.8, -0.8, -0.7, -0.4],
  [-0.6, 2.2, 2.5, 2.6, 2.4, 2.9, -0.3, -0.8, 0.5],
  [-0.8, 0.6, 1.3, 2.2, 2.6, 3.0, -0.5, -0.6, -0.3],
  [-0.4, 1.8, 2.8, 2.9, 2.7, 2.4, -0.9, -0.4, 0.0],
  [0.6, 1.0, 1.5, 1.2, 0.9, 1.6, 0.1, -0.4, -0.2],
  [-0.5, -0.3, 0.8, 1.8, 2.3, 2.3, 0.0, 0.4, 1.9],
  [-0.9, 2.9, 2.6, 2.5, 2.9, 2.8, -0.6, -0.7, -0.6],
  [-0.9, 2.6, 2.8, 2.9, 2.9, 2.9, -0.8, -0.8, -0.5],
  [-0.6, 1.7, 2.6, 2.8, 3.0, 2.8, -0.6, -0.7, -0.1],
  [-1.0, 2.2, 2.9, 3.0, 2.8, 3.0, -0.9, -0.6, 0.2],
  [-0.7, 1.0, 2.3, 2.7, 2.7, 2.7, -0.7, -0.9, -0.4],
  [-0.4, 2.8, 3.0, 2.8, 2.6, 2.8, -0.5, -0.5, 0.4],
  [-0.8, 1.5, 2.7, 2.9, 3.0, 2.9, -0.8, -0.7, -0.7],
  [-0.5, 2.4, 2.8, 3.0, 2.9, 2.6, -0.4, -0.8, 0.0],
  [-0.9, 0.8, 2.1, 2.6, 2.8, 2.9, -0.6, -0.4, 0.6],
  [-0.3, 2.0, 2.9, 2.9, 2.7, 2.8, -0.9, -0.6, -0.3],
  [-0.7, 2.7, 2.7, 2.8, 3.0, 3.0, -0.7, -0.9, -0.2],
  [-0.6, 1.3, 2.5, 3.0, 2.9, 2.7, -0.3, -0.6, 0.3],
  [-1.0, 2.5, 3.0, 2.7, 2.8, 2.9, -0.8, -0.5, -0.6],
  [-0.2, 1.9, 2.4, 2.8, 2.5, 2.6, -0.5, -0.7, 0.1],
  [-0.8, 2.9, 2.9, 2.9, 2.9, 2.7, -0.9, -0.8, -0.8],
  [-0.5, 1.1, 2.6, 2.7, 3.0, 2.9, -0.6, -0.3, 0.5]
]

const genes6 = [
  [1.9, -0.5, 0.8, -0.2, 1.0, 0.3, -0.4, -0.6, -0.2],
  [-1.0, 1.3, -0.8, 2.2, -0.3, 0.8, 1.2, 0.4, 0.2],
  [0.5, -1.0, 2.3, -0.9, 1.5, 0.0, 0.3, -0.2, 0.5],
  [-0.4, 1.8, 0.0, 0.6, -0.7, 2.7, 3.0, 1.0, 0.6],
  [1.2, 0.2, -0.5, 1.3, 0.4, -0.4, -0.8, -0.9, -0.6],
  [0.0, -0.6, 1.4, -0.4, 2.3, 1.2, 0.5, 0.8, 1.3],
  [-0.7, 0.9, -0.2, 0.9, -0.1, -0.7, -0.3, 0.2, -0.8],
  [0.8, -0.2, 0.5, -1.0, 0.7, 0.6, 2.3, 1.5, 0.9],
  [-0.2, 0.5, -0.9, 0.3, -0.6, -0.1, 0.0, -0.7, -0.4],
  [1.5, -0.8, 1.0, 0.0, 0.2, 1.8, 0.8, 0.0, 0.4],
  [-0.9, 0.0, 0.3, -0.6, 1.0, -0.3, -0.6, -0.3, 0.0],
  [0.3, 1.5, -0.4, 1.6, -0.4, 0.2, 1.6, 2.2, 1.7],
  [-0.5, -0.4, 0.7, -0.3, 0.5, -0.8, -1.0, -1.0, -0.9],
  [1.0, 0.7, -0.6, 0.4, -0.9, 0.5, 0.2, -0.4, 0.8],
  [-0.3, -0.9, 1.8, 0.2, 0.0, 0.0, -0.5, 0.3, -0.3],
  [0.6, 1.1, 0.2, -0.8, 1.8, 1.0, 1.3, 0.6, 2.9],
  [-0.8, -0.3, -0.3, 1.0, -0.5, -0.5, -0.2, -0.5, -0.7],
  [0.2, 0.3, 0.9, -0.5, 0.3, 0.4, -0.7, -0.1, 0.1],
  [2.1, -0.1, -0.7, 0.7, -0.2, 2.3, 1.0, 0.2, -0.5],
  [-0.6, 1.9, 0.4, -0.1, 0.8, -0.2, 0.6, 1.0, 1.5],
  [0.4, -0.7, -0.1, 1.9, -0.8, 0.7, -0.1, -0.8, -0.2],
  [-0.1, 0.6, 1.2, -0.7, 0.6, -0.6, 0.4, 0.5, 0.3],
  [0.9, -0.5, -0.5, 0.5, -0.3, 0.1, -0.4, -0.2, -0.6],
  [-1.0, 0.1, 0.6, -0.2, 1.3, 0.9, 2.0, 1.2, 1.0],
  [0.7, 1.0, -0.8, 1.1, 0.1, -0.9, -0.6, -0.6, -1.0],
  [-0.4, -0.2, 0.1, -0.4, -0.6, 0.3, 0.9, -0.3, 0.6],
  [1.3, 0.4, 1.6, 0.1, 0.9, -0.1, -0.9, -0.4, -0.1],
  [-0.2, -0.8, -0.3, 0.8, -0.1, 1.4, 0.1, 0.7, 2.0],
  [0.1, 1.4, 0.5, -0.6, 0.4, -0.4, 0.7, 0.1, -0.4],
  [-0.7, 0.0, -0.6, 0.3, -0.4, 0.2, -0.3, -0.9, 0.4],
  [1.7, 0.8, 0.3, -0.2, 1.1, 2.0, 1.8, 0.9, 0.7],
  [-0.3, -0.6, 1.0, 0.6, -0.2, -0.3, -0.8, 0.0, -0.3],
  [0.0, 0.2, -0.4, -0.9, 0.2, 0.5, 0.3, -0.5, 0.9],
  [0.5, -0.3, 0.8, 0.4, -0.5, -0.6, -0.2, 0.4, -0.1],
  [-0.5, 0.9, -0.1, 0.0, 0.6, 0.8, 1.1, 1.7, 1.2],
  [1.0, -0.9, 0.4, 1.5, -0.4, 0.2, -0.5, -0.3, 0.1],
  [-0.6, 1.2, -0.5, -0.8, 0.9, 0.9, 0.5, 0.2, -0.4],
  [0.3, -0.2, 1.5, 0.5, -0.7, -0.5, 0.0, -0.5, 0.3],
  [-0.9, 0.4, 0.9, -0.4, 0.5, 0.4, 1.4, 0.8, 0.6],
  [1.4, 1.6, -0.3, 0.3, 1.4, -0.2, -0.3, 0.0, -0.3],
  [0.2, -0.5, -0.7, 1.2, 0.0, 1.0, 0.2, -0.6, -0.5],
  [-0.3, 0.8, 0.6, -0.5, -0.5, -0.6, -0.7, -0.4, 0.2],
  [0.7, 0.1, 1.1, 0.8, 0.7, 0.6, 0.8, 1.3, 0.9],
  [-0.7, -0.4, -0.2, -0.1, 1.6, -0.1, 0.6, 0.3, -0.1],
  [1.6, 0.6, 0.0, -0.7, 0.3, 1.5, 0.4, -0.2, 0.5],
  [-0.1, 1.7, 0.7, 1.4, -0.2, -0.4, -0.1, 0.6, 1.1],
  [0.5, -0.6, -0.4, 0.1, 1.2, 0.1, -0.6, -0.7, -0.8],
  [-0.5, 0.2, 2.0, -0.6, 0.1, 0.7, 1.5, 0.5, 0.3],
  [0.9, 1.3, -0.9, 0.7, -0.6, -0.3, 0.0, 0.4, 0.0],
  [-0.2, -0.1, 0.4, 1.7, 0.9, 1.1, 0.7, -0.1, -0.6],
  [1.1, -0.3, 1.3, -0.3, -0.3, 0.0, -0.4, 0.9, 1.4],
  [-0.8, 0.7, 0.1, 0.2, 0.4, -0.7, -0.2, -0.2, 0.0],
  [0.4, 0.0, -0.6, 0.9, 2.0, 0.3, 1.0, 0.1, 0.2],
  [-0.4, 1.0, 0.8, -0.2, -0.8, 0.5, 0.3, 1.1, 0.8],
  [1.8, -0.7, 0.2, 0.5, 0.6, -0.5, -0.5, -0.6, -0.2],
  [0.0, 0.5, 1.7, -0.8, 0.3, 1.7, 1.1, 0.7, 0.5],
  [-0.6, -0.8, -0.1, 0.6, -0.1, 0.0, 0.5, -0.4, 0.7],
  [0.6, 0.3, 0.5, 0.0, 0.8, -0.2, -0.8, 0.2, -0.4],
  [-1.0, 1.5, -0.2, 1.0, 0.2, 0.4, 0.2, -0.5, 0.1],
  [1.2, -0.4, 0.9, -0.5, 1.1, 1.2, 1.7, 1.4, 2.4],
  [0.3, -0.4, 0.6, -0.6, 0.4, 0.1, -0.3, 0.2, -0.2],
  [-0.5, 0.6, -0.3, 0.5, -0.5, -0.2, 0.4, -0.4, 0.3],
  [0.7, -0.7, 0.2, 0.9, 0.0, 0.6, 0.0, 0.3, 0.6],
  [-0.2, 0.3, 1.0, -0.3, 0.7, -0.4, -0.6, -0.1, -0.5],
  [0.1, 0.9, -0.5, 0.2, -0.8, 0.3, 0.6, 0.5, 0.1],
  [-0.8, -0.1, 0.4, -0.7, 0.6, 0.7, 0.2, -0.6, -0.2],
  [0.9, 0.2, -0.2, 0.6, 0.2, -0.6, -0.4, 0.0, 0.4],
  [-0.4, -0.6, 0.8, 0.0, -0.4, 0.0, 0.8, 0.6, 0.9],
  [0.5, 0.5, -0.7, -0.4, 0.9, 0.4, -0.1, -0.3, -0.7],
  [-0.6, 0.0, 0.3, 1.1, -0.2, -0.3, -0.5, 0.1, 0.2],
  [0.2, -0.3, -0.1, -0.2, 0.5, 0.9, 0.5, 0.8, 0.5],
  [-0.1, 0.7, 0.5, 0.4, -0.6, -0.5, 0.1, -0.5, -0.4],
  [0.6, -0.8, -0.6, 0.1, 0.1, 0.2, -0.7, -0.2, 0.0],
  [-0.9, 0.4, 0.7, -0.5, 0.3, 0.5, 0.3, 0.4, 0.8],
  [0.4, 0.1, 0.0, 0.8, -0.3, -0.1, 0.9, 0.0, -0.3],
  [-0.3, -0.5, 1.1, -0.1, 0.8, 0.8, -0.2, -0.7, -0.1],
  [0.8, 0.6, -0.4, -0.6, -0.1, -0.7, 0.0, 0.3, 0.7],
  [-0.7, 0.2, 0.2, 0.7, 0.4, 0.1, 0.6, -0.2, -0.6],
  [0.0, -0.2, 0.9, 0.3, -0.7, 0.6, -0.4, 0.5, 0.3],
  [-0.4, 1.0, -0.3, -0.3, 0.6, -0.4, 0.2, -0.1, 0.1]
]

// estimated function: times and values
const fitT1 = [1, 2, 3, 4, 5, 6, 7, 10, 12, 14, 17, 21, 24, 28]
const fitV1 = [0.19, 0.09, -0.12, -0.27, -0.35, -0.39, -0.42, -0.46, -0.48, -0.47, -0.43, -0.36, -0.31, -0.25]
const fitT2 = [1, 2, 3, 4, 5, 6, 7, 10, 12, 14, 17, 21, 24, 28]
const fitV2 = [0.0, 0.04, 0.11, 0.13, 0.08, 0.02, -0.05, -0.17, -0.21, -0.21, -0.18, -0.14, -0.135, -0.135]
const fitT3 = [1, 1.5, 2, 3, 4, 5, 7, 10, 14, 18, 21, 24, 28]
const fitV3 = [1.90, 2.03, 1.955, 1.43, 1.06, 0.915, 0.88, 0.90, 1.005, 1.10, 1.11, 0.97, 0.72]
const fitT4 = [1, 2, 3, 4, 5, 7, 10, 12, 14, 17, 21, 24, 28]
const fitV4 = [0.066, 0.145, 0.365, 0.47, 0.42, 0.19, -0.03, -0.08, -0.08, 0.01, 0.066, 0.09, 0.10]
const fitT5 = [1, 2, 3, 4, 4.5, 5, 7, 10, 14, 17, 21, 24, 28]
const fitV5 = [-0.25, 1.07, 2.13, 2.66, 2.72, 2.64, 2.03, 1.19, 0.205, -0.24, -0.66, -0.51, -0.03]
const fitT6 = [1, 2, 3, 4, 5, 7, 9, 10.5, 12, 14, 17, 21, 25, 28]
const fitV6 = [-0.02, -0.01, 0.0, 0.04, 0.11, 0.24, 0.32, 0.33, 0.31, 0.235, 0.085, -0.06, -0.105, -0.05]

// estimated function at the sampling times (yellow points)
const points1 = [0.19, 0.09, -0.12, -0.27, -0.35, -0.42, -0.47, -0.36, -0.25]
const points2 = [0.0, 0.04, 0.11, 0.13, 0.08, -0.05, -0.21, -0.14, -0.135]
const points3 = [1.90, 1.955, 1.43, 1.06, 0.915, 0.88, 1.005, 1.11, 0.72]
const points4 = [0.066, 0.145, 0.365, 0.47, 0.42, 0.19, -0.08, 0.066, 0.10]
const points5 = [-0.25, 1.07, 2.13, 2.66, 2.64, 2.03, 0.205, -0.66, -0.03]
const points6 = [-0.02, -0.01, 0.0, 0.04, 0.11, 0.24, 0.235, -0.06, -0.05]

const titles = ['Bicluster 1', 'Bicluster 2', 'Bicluster 3', 'Bicluster 4', 'Bicluster 5', 'Bicluster 6']
const xTicks = [0, 10, 20]
const yTicks = [-1, 0, 1, 2, 3]
const xMinor = [5, 15, 25]
const yMinor = [-0.5, 0.5, 1.5, 2.5]

const panels = [
  { genes: genes1, fitT: fitT1, fitV: fitV1, pts: points1, lw: 1.6 },
  { genes: genes2, fitT: fitT2, fitV: fitV2, pts: points2, lw: 1.6 },
  { genes: genes3, fitT: fitT3, fitV: fitV3, pts: points3, lw: 0.9 },
  { genes: genes4, fitT: fitT4, fitV: fitV4, pts: points4, lw: 0.9 },
  { genes: genes5, fitT: fitT5, fitV: fitV5, pts: points5, lw: 1.2 },
  { genes: genes6, fitT: fitT6, fitV: fitV6, pts: points6, lw: 1.2 }
]

const FONT = '"Liberation Sans", Arial, Helvetica, sans-serif'
const colLeft = [39.5, 476]
const plotTop = [68, 344, 620]
const plotW = 430.5
const plotH = 245.5
const stripH = 25

const fmtMinus = (v) => (v < 0 ? '\u2212' + Math.abs(v) : String(v))

const myChart = echarts.init(document.getElementById('chart'))

const grid = []
const xAxis = []
const yAxis = []
const series = []
const graphic = []

panels.forEach((p, i) => {
  const col = i % 2
  const row = Math.floor(i / 2)
  const left = colLeft[col]
  const top = plotTop[row]
  const bottomRow = row === 2
  const leftCol = col === 0

  grid.push({
    left: left, top: top, width: plotW, height: plotH,
    show: true, backgroundColor: '#EBEBEB', borderWidth: 0
  })

  xAxis.push({
    type: 'value', gridIndex: i, min: -0.35, max: 29.35, splitNumber: 3,
    axisLine: { show: false, onZero: false },
    axisTick: { show: bottomRow, length: 4, lineStyle: { color: '#333333', width: 1 }, customValues: xTicks },
    axisLabel: {
      show: bottomRow, customValues: xTicks, margin: 5,
      color: '#4D4D4D', fontSize: 10.5, fontFamily: FONT
    },
    splitLine: { show: true, showMinLine: false, showMaxLine: false, lineStyle: { color: '#FFFFFF', width: 1.2 } }
  })

  yAxis.push({
    type: 'value', gridIndex: i, min: -1.2, max: 3.2, splitNumber: 4,
    axisLine: { show: false, onZero: false },
    axisTick: { show: leftCol, length: 4, lineStyle: { color: '#333333', width: 1 }, customValues: yTicks },
    axisLabel: {
      show: leftCol, customValues: yTicks, margin: 6, formatter: fmtMinus,
      color: '#4D4D4D', fontSize: 10.5, fontFamily: FONT
    },
    splitLine: { show: true, showMinLine: false, showMaxLine: false, lineStyle: { color: '#FFFFFF', width: 1.2 } }
  })

  // minor grid lines
  series.push({
    type: 'line', xAxisIndex: i, yAxisIndex: i, data: [], z: 1, silent: true,
    markLine: {
      silent: true, symbol: ['none', 'none'], animation: false,
      label: { show: false },
      lineStyle: { color: '#FFFFFF', width: 0.6, type: 'solid' },
      emphasis: { disabled: true },
      data: xMinor.map(v => ({ xAxis: v })).concat(yMinor.map(v => ({ yAxis: v })))
    }
  })

  p.genes.forEach(g => {
    series.push({
      name: 'Data', type: 'line', xAxisIndex: i, yAxisIndex: i, z: 2,
      data: times.map((t, j) => [t, g[j]]),
      symbol: 'none', silent: true,
      lineStyle: { color: 'rgba(0,0,0,0.85)', width: p.lw, type: [1.2, 1] }
    })
  })

  series.push({
    name: 'Estimated function', type: 'line', xAxisIndex: i, yAxisIndex: i, z: 3,
    data: p.fitT.map((t, j) => [t, p.fitV[j]]),
    smooth: 0.35, symbol: 'none', silent: true,
    lineStyle: { color: '#0000FF', width: 5 }
  })

  series.push({
    type: 'scatter', xAxisIndex: i, yAxisIndex: i, z: 4,
    data: times.map((t, j) => [t, p.pts[j]]),
    symbolSize: 8, silent: true,
    itemStyle: { color: '#FFFF00', opacity: 1, borderColor: '#000000', borderWidth: 0.6 }
  })

  // facet strip
  graphic.push({
    type: 'rect', silent: true,
    shape: { x: left, y: top - stripH, width: plotW, height: stripH },
    style: { fill: '#D9D9D9' }
  })
  graphic.push({
    type: 'text', silent: true, x: left + plotW / 2, y: top - stripH / 2,
    style: {
      text: titles[i], fill: '#A020F0', font: '15.5px ' + FONT,
      textAlign: 'center', textVerticalAlign: 'middle', align: 'center', verticalAlign: 'middle'
    }
  })
})

// legend
graphic.push(
  { type: 'rect', silent: true, shape: { x: 375, y: 8, width: 18, height: 18 }, style: { fill: '#F2F2F2' } },
  { type: 'line', silent: true, shape: { x1: 376.5, y1: 17, x2: 391.5, y2: 17 },
    style: { stroke: '#8C8C8C', lineWidth: 0.8, lineDash: [1, 1.3] } },
  { type: 'text', silent: true, x: 394, y: 17,
    style: { text: 'Data', fill: '#000000', font: '15.5px ' + FONT, textVerticalAlign: 'middle', verticalAlign: 'middle' } },
  { type: 'rect', silent: true, shape: { x: 427, y: 8, width: 17, height: 18 }, style: { fill: '#F2F2F2' } },
  { type: 'line', silent: true, shape: { x1: 427.5, y1: 17, x2: 443.5, y2: 17 },
    style: { stroke: '#0000FF', lineWidth: 4 } },
  { type: 'text', silent: true, x: 445, y: 17,
    style: { text: 'Estimated function', fill: '#000000', font: '15.5px ' + FONT, textVerticalAlign: 'middle', verticalAlign: 'middle' } }
)

// axis titles
graphic.push(
  { type: 'text', silent: true, x: 473, y: 889,
    style: { text: 'Time', fill: '#000000', font: '14.5px ' + FONT,
      textAlign: 'center', textVerticalAlign: 'middle', align: 'center', verticalAlign: 'middle' } },
  { type: 'text', silent: true, x: 15, y: 483, rotation: Math.PI / 2,
    style: { text: 'Expression  of  genes', fill: '#000000', font: '14.5px ' + FONT,
      textAlign: 'center', textVerticalAlign: 'middle', align: 'center', verticalAlign: 'middle' } }
)

myChart.setOption({
  animation: false,
  backgroundColor: '#FFFFFF',
  grid: grid,
  xAxis: xAxis,
  yAxis: yAxis,
  series: series,
  graphic: graphic
})
</script>
</body>
</html>
